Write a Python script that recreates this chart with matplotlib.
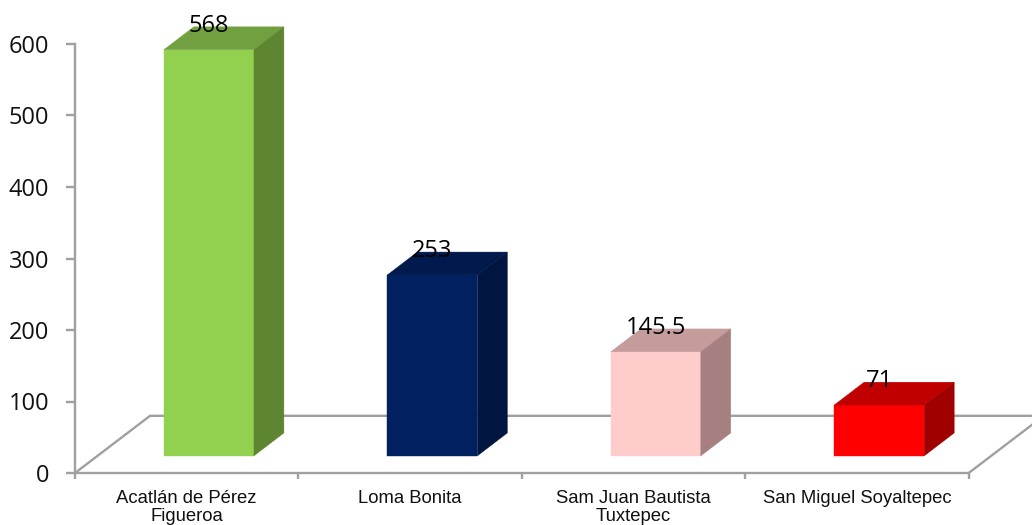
import matplotlib

matplotlib.use("Agg")
import matplotlib.pyplot as plt

CATEGORIES = ["Acatlán de Pérez\nFigueroa", "Loma Bonita", "Sam Juan Bautista\nTuxtepec", "San Miguel Soyaltepec"]
VALUES = [568, 253, 145.5, 71]
VALUE_LABELS = ["568", "253", "145.5", "71"]
Y_TICKS = [0, 100, 200, 300, 400, 500, 600]

FRONT_COLORS = ["#92D050", "#002060", "#FFCCCC", "#FF0000"]
TOP_COLORS = ["#70A03F", "#001A4D", "#C49C9C", "#C00000"]
SIDE_COLORS = ["#5E8530", "#00153F", "#A68080", "#A00000"]

GRAY = "#A0A0A0"

# fake 3d geometry, in data units
BAR_W = 0.403
BAR_LEFT = 0.398
DEPTH_X = 0.134
DEPTH_Y = 32
LIFT = 24
FLOOR_X = 0.336
FLOOR_Y = 80

W, H = 1032, 525
fig = plt.figure(figsize=(W / 100, H / 100), dpi=100)
ax = fig.add_axes([75 / W, 1 - 473 / H, 893.7 / W, 429 / H])
ax.set_xlim(0, 4)
ax.set_ylim(0, 600)

for s in ["top", "right"]:
    ax.spines[s].set_visible(False)
for s in ["left", "bottom"]:
    ax.spines[s].set_color(GRAY)
    ax.spines[s].set_linewidth(1.7)

# floor outline
ax.plot([0, FLOOR_X, 4 + FLOOR_X], [0, FLOOR_Y, FLOOR_Y], color=GRAY, lw=1.7, clip_on=False, zorder=1)
ax.plot([4, 4 + FLOOR_X], [0, FLOOR_Y], color=GRAY, lw=1.7, clip_on=False, zorder=1)

for i, val in enumerate(VALUES):
    x0 = i + BAR_LEFT
    x1 = x0 + BAR_W
    y0 = LIFT
    y1 = LIFT + val
    ax.fill([x0, x1, x1, x0], [y0, y0, y1, y1], color=FRONT_COLORS[i], lw=0.3, clip_on=False, zorder=3)
    ax.fill([x0, x1, x1 + DEPTH_X, x0 + DEPTH_X], [y1, y1, y1 + DEPTH_Y, y1 + DEPTH_Y],
            color=TOP_COLORS[i], lw=0.3, clip_on=False, zorder=3)
    ax.fill([x1, x1 + DEPTH_X, x1 + DEPTH_X, x1], [y0, y0 + DEPTH_Y, y1 + DEPTH_Y, y1],
            color=SIDE_COLORS[i], lw=0.3, clip_on=False, zorder=3)
    ax.annotate(VALUE_LABELS[i], (x0 + BAR_W / 2 + DEPTH_X / 2 - 0.067, y1), xytext=(0, 17),
                textcoords="offset points", ha="center", va="center", fontsize=17,
                family="Open Sans", color="black", zorder=4, annotation_clip=False)

ax.set_yticks(Y_TICKS)
ax.tick_params(axis="y", length=6.5, width=1.7, color=GRAY, pad=12, labelsize=17)
for lab in ax.get_yticklabels():
    lab.set_family("Open Sans")
    lab.set_color("#111111")

ax.set_xticks(range(5))
ax.set_xticklabels([])
ax.set_xticks([i + 0.5 for i in range(4)], labels=CATEGORIES, minor=True)
ax.tick_params(axis="x", which="major", length=4.5, width=1.7, color=GRAY)
ax.tick_params(axis="x", which="minor", length=0, pad=12, labelsize=13.3)
for lab in ax.get_xticklabels(minor=True):
    lab.set_family("Liberation Sans")
    lab.set_color("#111111")
    lab.set_linespacing(1.1)

fig.savefig("out.png", dpi=100)
